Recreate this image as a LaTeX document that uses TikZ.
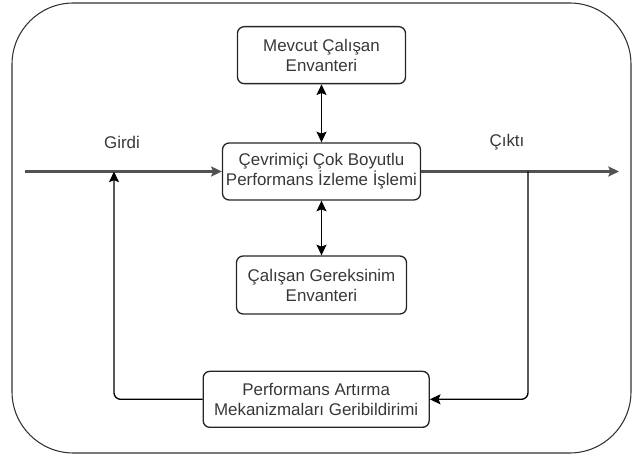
\documentclass[tikz,border=0pt]{standalone}
\usepackage{fontspec}
\setmainfont{Liberation Sans}
\usetikzlibrary{positioning,arrows.meta}

\tikzset{
  kutu/.style = {draw=black!85, line width=1pt, rounded corners=5pt,
                 align=center, text=black!78, inner sep=0pt,
                 font=\fontsize{12.7}{15}\selectfont},
  etiket/.style = {text=black!78, font=\fontsize{12.7}{15}\selectfont},
  ok/.style = {-{Stealth[length=8pt,width=7.5pt,inset=1.5pt]}, line width=1pt, draw=black},
  ciftok/.style = {{Stealth[length=8pt,width=7.5pt,inset=1.5pt]}-{Stealth[length=8pt,width=7.5pt,inset=1.5pt]},
                   line width=1pt, draw=black},
  akis/.style = {line width=1.6pt},
}

\begin{document}
\begin{tikzpicture}[x=0.75pt, y=-0.75pt]
  \useasboundingbox (0,0) rectangle (633,459);

  % cerceve
  \draw[line width=0.8pt, draw=black!80, rounded corners=46pt] (12,3) rectangle (631,453);

  \node[kutu, minimum width=148.5pt, minimum height=42.75pt] (ana) at (321.5,171.5)
    {Çevrimiçi Çok Boyutlu\\Performans İzleme İşlemi};
  \node[kutu, minimum width=126pt, minimum height=42.75pt, above=43.5pt of ana] (mevcut)
    {Mevcut Çalışan\\Envanteri};
  \node[kutu, minimum width=127.5pt, minimum height=43.5pt, below=41pt of ana] (gerek)
    {Çalışan Gereksinim\\Envanteri};
  \node[kutu, minimum width=169.5pt, minimum height=42pt, below=42pt of gerek, xshift=-4pt] (perf)
    {Performans Artırma\\Mekanizmaları Geribildirimi};

  \node[etiket] (girdi) at (122,142) {Girdi};
  \node[etiket] (cikti) at (507,142) {Çıktı};

  \coordinate (giris) at (25,171.5);
  \coordinate (cikis) at (619,171.5);
  \coordinate (ayrim) at (528,171.5);
  \coordinate (donus) at (114,171.5);

  \draw[ok, akis, draw=black!68] (giris) -- (ana);
  \draw[ok, akis, draw=black!68] (ana) -- (cikis);

  \draw[ciftok] (mevcut) -- (ana);
  \draw[ciftok] (ana) -- (gerek);

  \draw[ok, rounded corners=5pt] (ayrim) |- (perf);
  \draw[ok, rounded corners=5pt] (perf) -| (donus);
\end{tikzpicture}
\end{document}
